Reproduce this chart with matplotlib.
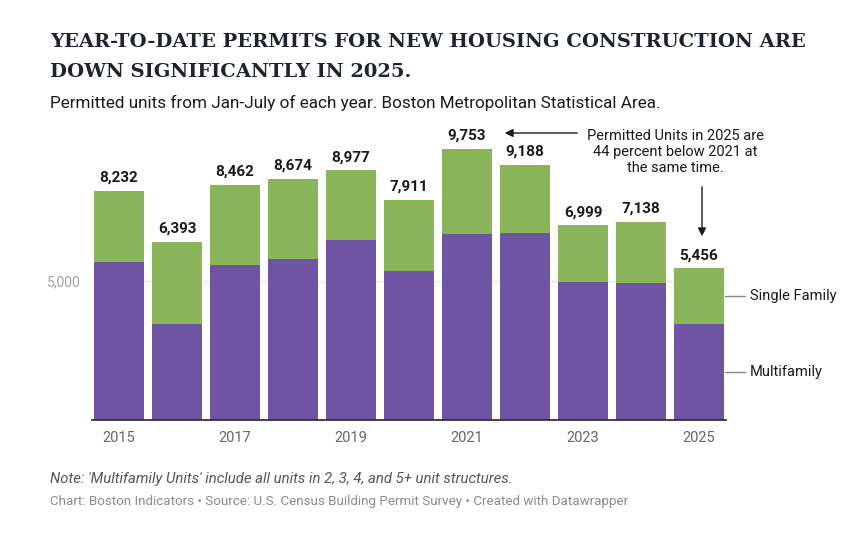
import matplotlib.pyplot as plt

years = [2015, 2016, 2017, 2018, 2019, 2020, 2021, 2022, 2023, 2024, 2025]
totals = [8232, 6393, 8462, 8674, 8977, 7911, 9753, 9188, 6999, 7138, 5456]
multifamily = [5680, 3450, 5580, 5790, 6470, 5360, 6690, 6730, 4960, 4930, 3450]
single_family = [t - m for t, m in zip(totals, multifamily)]
tick_years = [2015, 2017, 2019, 2021, 2023, 2025]

PURPLE = "#6f54a4"
GREEN = "#8bb55a"
W, H = 863, 535

fig = plt.figure(figsize=(W / 100, H / 100), dpi=100)


def px(x, y):
    # pixel coords (top-left origin) -> figure fraction
    return x / W, 1 - y / H


# axes: x 91.7..726.3 px, y 142..420 px
ax = fig.add_axes([91.7 / W, 115 / H, 634.6 / W, 278 / H])
xs = list(range(len(years)))
ax.bar(xs, multifamily, width=0.86, color=PURPLE, zorder=2)
ax.bar(xs, single_family, bottom=multifamily, width=0.86, color=GREEN, zorder=2)
ax.set_xlim(-0.47, 10.47)
ax.set_ylim(0, 10000)

for x, t in zip(xs, totals):
    ax.annotate(f"{t:,}", (x, t), xytext=(0, 4.5), textcoords="offset points",
                ha="center", va="bottom", fontsize=11, fontweight="bold",
                family="Roboto", color="#1a1a1a", annotation_clip=False)

ax.axhline(5000, color="#e6e6e6", lw=1, zorder=1)
for s in ["top", "right", "left"]:
    ax.spines[s].set_visible(False)
ax.spines["bottom"].set_color("#333333")
ax.spines["bottom"].set_linewidth(1.3)
ax.set_yticks([5000])
ax.set_yticklabels(["5,000"], family="Roboto", fontsize=10, color="#a0a0a0")
ax.tick_params(axis="y", length=0, pad=8)
ax.set_xticks([years.index(y) for y in tick_years])
ax.set_xticklabels([str(y) for y in tick_years], family="Roboto", fontsize=10.5,
                   color="#666666")
ax.tick_params(axis="x", length=0, pad=8)

# annotation
fig.text(*px(675, 152), "Permitted Units in 2025 are\n44 percent below 2021 at\nthe same time.",
         ha="center", va="center", fontsize=10.5, family="Roboto", color="#1a1a1a",
         linespacing=1.2)
ax.annotate("", xy=px(502, 133), xycoords="figure fraction",
            xytext=px(580, 133), textcoords="figure fraction",
            arrowprops=dict(arrowstyle="-|>", color="#1a1a1a", lw=1, mutation_scale=12))
ax.annotate("", xy=px(702, 239), xycoords="figure fraction",
            xytext=px(702, 184), textcoords="figure fraction",
            arrowprops=dict(arrowstyle="-|>", color="#1a1a1a", lw=1, mutation_scale=12))

# direct legend
for label, y in [("Single Family", 296), ("Multifamily", 372)]:
    fig.add_artist(plt.Line2D([725 / W, 745 / W], [1 - y / H, 1 - y / H],
                              color="#888888", lw=1))
    fig.text(*px(750, y), label, ha="left", va="center", fontsize=10.5,
             family="Roboto", color="#1a1a1a")

# titles
fig.text(*px(50, 42), "YEAR-TO-DATE PERMITS FOR NEW HOUSING CONSTRUCTION ARE",
         ha="left", va="center", fontsize=14, fontweight="bold",
         family="DejaVu Serif", color="#1c2433")
fig.text(*px(50, 72), "DOWN SIGNIFICANTLY IN 2025.",
         ha="left", va="center", fontsize=14, fontweight="bold",
         family="DejaVu Serif", color="#1c2433")
fig.text(*px(50, 103), "Permitted units from Jan-July of each year. Boston Metropolitan Statistical Area.",
         ha="left", va="center", fontsize=12.3, family="Roboto", color="#1a1a1a")

fig.text(*px(50, 479), "Note: 'Multifamily Units' include all units in 2, 3, 4, and 5+ unit structures.",
         ha="left", va="center", fontsize=10.7, style="italic", family="Roboto",
         color="#555555")
fig.text(*px(50, 501), "Chart: Boston Indicators \u2022 Source: U.S. Census Building Permit Survey \u2022 Created with Datawrapper",
         ha="left", va="center", fontsize=9.6, family="Roboto", color="#8a8a8a")

fig.savefig("out.png", dpi=100, facecolor="white")
